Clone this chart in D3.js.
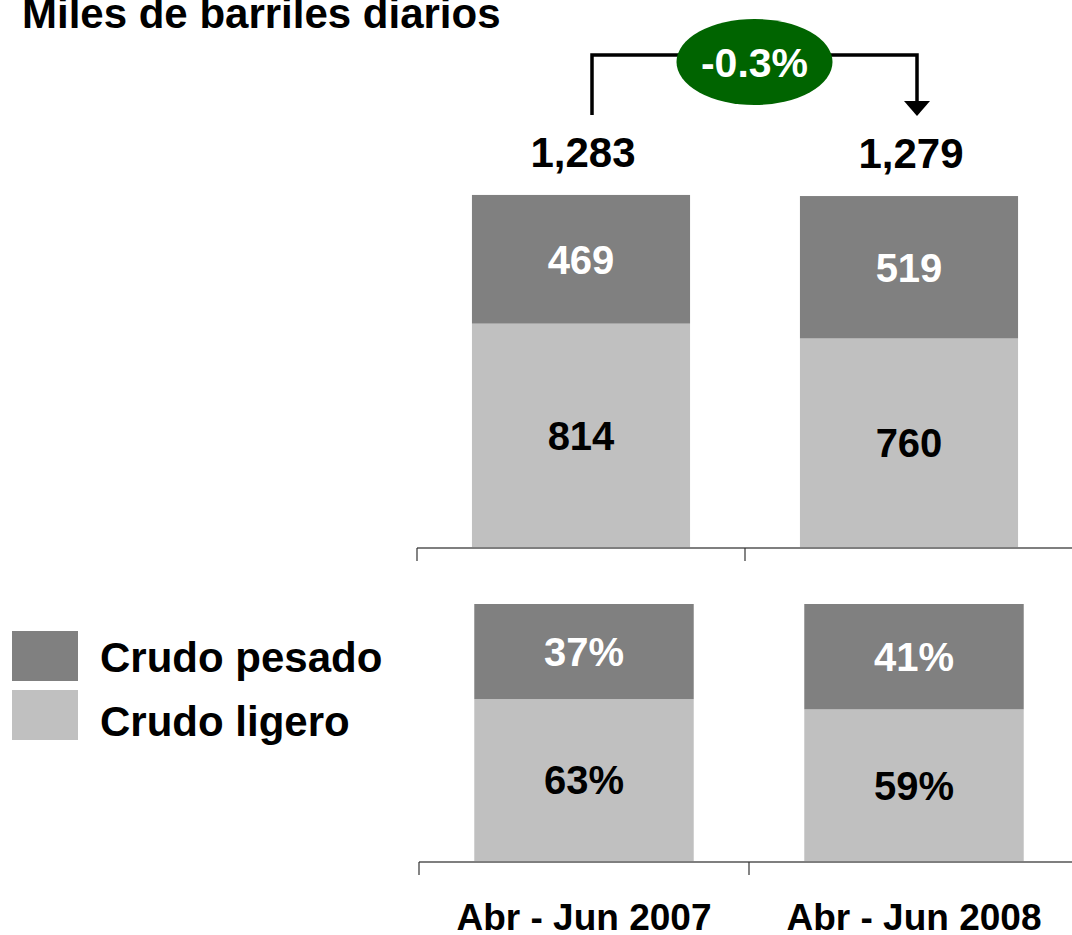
<!DOCTYPE html>
<html><head><meta charset="utf-8">
<script src="https://cdn.jsdelivr.net/npm/d3@7"></script>
<style>
html,body{margin:0;padding:0;background:#fff;}
svg{display:block;}
text{font-family:"Liberation Sans",Arial,sans-serif;font-weight:bold;}
</style></head>
<body>
<script>
// ---- data ----
const categories = ["Abr - Jun 2007", "Abr - Jun 2008"];
const seriesNames = ["Crudo ligero", "Crudo pesado"];
const ligeroVolume = [814, 760];
const pesadoVolume = [469, 519];
const totals = [1283, 1279];
const ligeroShare = [63, 59];
const pesadoShare = [37, 41];
const changeLabel = "-0.3%";
const title = "Miles de barriles diarios";

const colors = {"Crudo pesado":"#808080","Crudo ligero":"#C0C0C0"};

const W = 1072, H = 935;
const svg = d3.select("body").append("svg").attr("width", W).attr("height", H);

// title
svg.append("text").attr("x", 22).attr("y", 28).attr("font-size", 42).attr("fill","#000").text(title);

function drawStack(cfg){
  const x = d3.scaleBand().domain(categories).range(cfg.xr).padding(0);
  const y = d3.scaleLinear().domain(cfg.yd).range(cfg.yr);
  const bw = x.bandwidth()*0.665;
  const g = svg.append("g");
  categories.forEach((c,i)=>{
    const cx = x(c)+x.bandwidth()/2;
    const lo = cfg.lower[i], hi = cfg.upper[i];
    g.append("rect").attr("x", cx-bw/2).attr("width", bw)
      .attr("y", y(lo)).attr("height", y(0)-y(lo)).attr("fill", colors["Crudo ligero"]);
    g.append("rect").attr("x", cx-bw/2).attr("width", bw)
      .attr("y", y(lo+hi)).attr("height", y(lo)-y(lo+hi)).attr("fill", colors["Crudo pesado"]);
    g.append("text").attr("x", cx).attr("y", (y(0)+y(lo))/2).attr("dy","0.36em")
      .attr("text-anchor","middle").attr("font-size",40).attr("fill","#000").text(cfg.fmt(lo));
    g.append("text").attr("x", cx).attr("y", (y(lo)+y(lo+hi))/2).attr("dy","0.36em")
      .attr("text-anchor","middle").attr("font-size",40).attr("fill","#fff").text(cfg.fmt(hi));
  });
  const ax = g.append("g").attr("transform", `translate(0,${y(0)+1})`);
  ax.append("line").attr("x1", cfg.xr[0]).attr("x2", W).attr("y1",0).attr("y2",0)
    .attr("stroke","#555").attr("stroke-width",1.5);
  categories.forEach(c=>{
    ax.append("line").attr("x1", x(c)).attr("x2", x(c)).attr("y1",0).attr("y2",13)
      .attr("stroke","#333").attr("stroke-width",1.2);
  });
  return {x,y};
}

const topChart = drawStack({xr:[417,1073], yd:[0,1500], yr:[547,135.4],
  lower: ligeroVolume, upper: pesadoVolume, fmt: d=>d3.format(",")(d)});
const botChart = drawStack({xr:[419,1079], yd:[0,100], yr:[861,604],
  lower: ligeroShare, upper: pesadoShare, fmt: d=>d+"%"});

// totals
categories.forEach((c,i)=>{
  const cx = topChart.x(c)+topChart.x.bandwidth()/2;
  svg.append("text").attr("x", cx+2).attr("y", topChart.y(totals[i])-28)
    .attr("text-anchor","middle").attr("font-size",42).attr("fill","#000")
    .text(d3.format(",")(totals[i]));
});

// bracket arrow
const x1 = topChart.x(categories[0])+topChart.x.bandwidth()/2+11;
const x2 = topChart.x(categories[1])+topChart.x.bandwidth()/2+8;
const yTop = 55;
svg.append("path").attr("d", `M${x1},115 V${yTop} H${x2} V101`)
  .attr("fill","none").attr("stroke","#000").attr("stroke-width",3.5);
svg.append("path").attr("d", `M${x2-13},101 L${x2+13},101 L${x2},116 Z`).attr("fill","#000");
const ex = (x1+x2)/2;
svg.append("ellipse").attr("cx", ex).attr("cy", 62).attr("rx", 78).attr("ry", 43).attr("fill","#006400");
svg.append("text").attr("x", ex).attr("y", 62).attr("dy","0.36em").attr("text-anchor","middle")
  .attr("font-size",41).attr("fill","#fff").text(changeLabel);

// x labels
categories.forEach(c=>{
  svg.append("text").attr("x", botChart.x(c)+botChart.x.bandwidth()/2).attr("y", 930)
    .attr("text-anchor","middle").attr("font-size",37).attr("fill","#000").text(c);
});

// legend
const legendItems = ["Crudo pesado","Crudo ligero"];
legendItems.forEach((s,i)=>{
  svg.append("rect").attr("x",12).attr("y",631+i*59).attr("width",66).attr("height",50).attr("fill",colors[s]);
  svg.append("text").attr("x",100).attr("y",672+i*64).attr("font-size",42).attr("fill","#000").text(s);
});
</script>
</body></html>
